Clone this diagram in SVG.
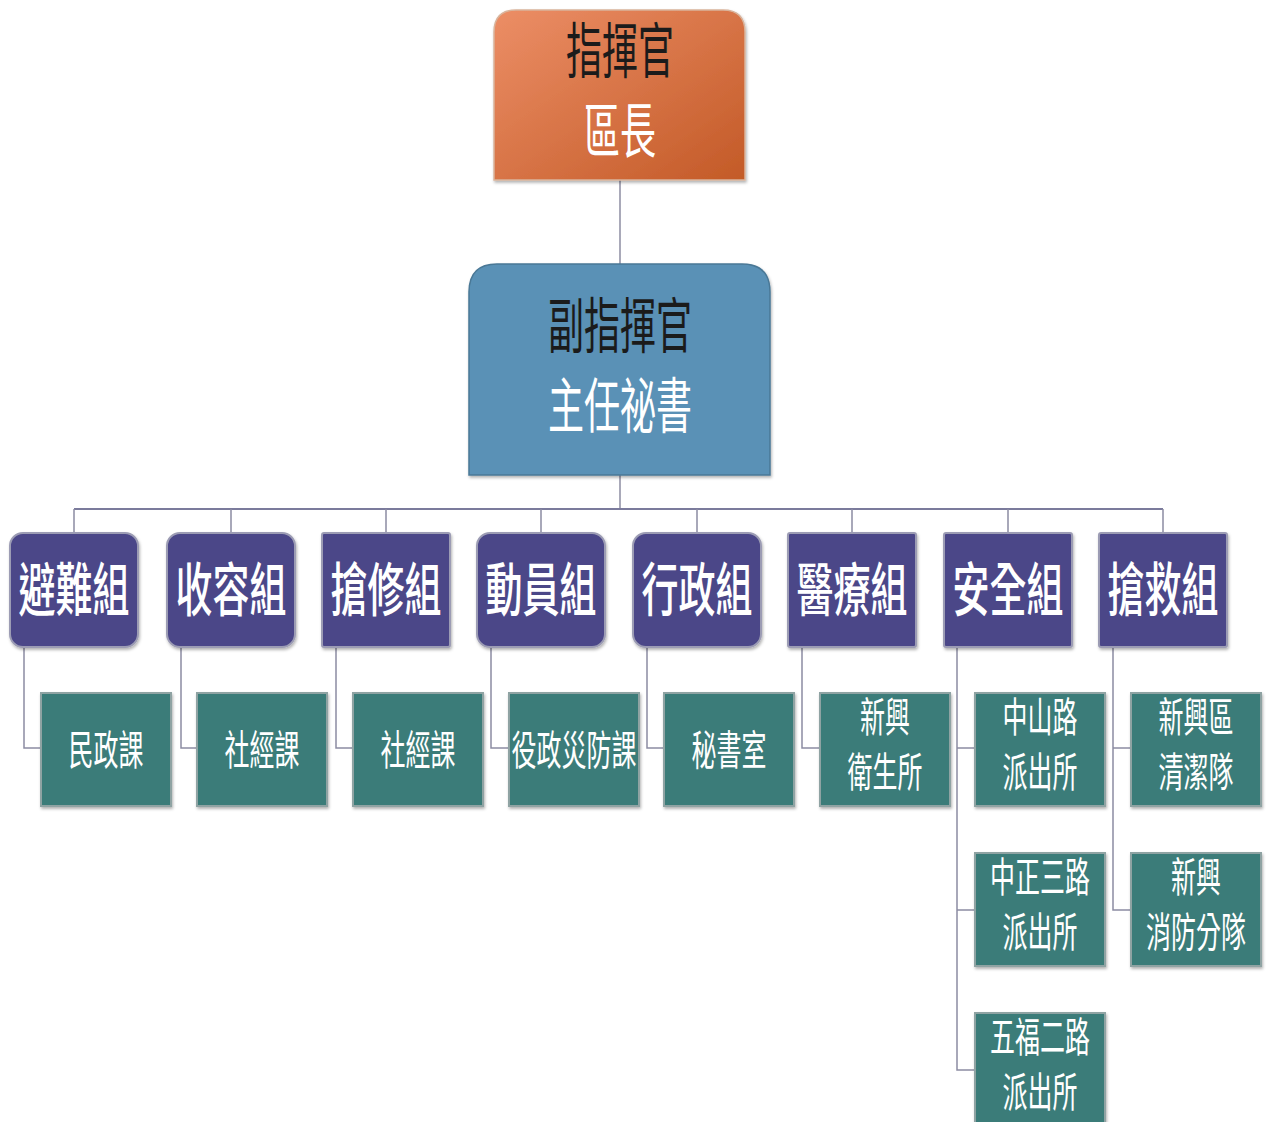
<svg xmlns="http://www.w3.org/2000/svg" width="1269" height="1122" viewBox="0 0 1269 1122">
<defs>
<linearGradient id="orange" x1="0" y1="0" x2="1" y2="1">
<stop offset="0" stop-color="#EC8E66"/>
<stop offset="1" stop-color="#C35A27"/>
</linearGradient>
<filter id="sh" x="-5%" y="-5%" width="112%" height="115%">
<feDropShadow dx="1" dy="2" stdDeviation="1.5" flood-color="#000" flood-opacity="0.3"/>
</filter>
</defs>
<style>
text{font-family:"Noto Sans CJK TC","Noto Sans CJK SC",sans-serif;text-anchor:middle;}
.dark{fill:#1b1b1b;font-size:36px;}
.white{fill:#ffffff;font-size:36px;}
.grp{fill:#4B4788;stroke:#9c9cb4;stroke-width:2;filter:url(#sh);}
.gt{fill:#ffffff;font-size:37px;font-weight:500;}
.sub{fill:#3A7B79;stroke:#8fa3a3;stroke-width:2;filter:url(#sh);}
.st{fill:#ffffff;font-size:25px;}
.ln{fill:none;stroke:#8c8ca2;stroke-width:1.5;}
.bar{fill:none;stroke:#7b7b9c;stroke-width:2;}
</style>
<rect width="1269" height="1122" fill="#ffffff"/>
<g id="connectors">
<path class="ln" d="M620 180V264"/>
<path class="ln" d="M620 475V509"/>
<path class="bar" d="M74 509H1163"/>
<path class="ln" d="M74 509V533M231 509V533M386 509V533M541 509V533M697 509V533M852 509V533M1008 509V533M1163 509V533"/>
<path class="ln" d="M24 647V748H41M181 647V748H197M336 647V748H353M491 647V748H509M647 647V748H664M802 647V748H820"/>
<path class="ln" d="M957 647V1070H975M957 748H975M957 910H975"/>
<path class="ln" d="M1113 647V910H1131M1113 748H1131"/>
</g>
<g id="commander">
<path d="M494 180V32Q494 10 516 10H723Q745 10 745 32V180Z" fill="url(#orange)" stroke="#d9b49c" stroke-width="1.5" filter="url(#sh)"/>
<text class="dark" transform="translate(620 73) scale(1 1.67)">指揮官</text>
<text class="white" transform="translate(620 153) scale(1 1.67)">區長</text>
</g>
<g id="deputy">
<path d="M469 475V292Q469 264 497 264H742Q770 264 770 292V475Z" fill="#5A91B6" stroke="#4a7896" stroke-width="1.5" filter="url(#sh)"/>
<text class="dark" transform="translate(620 348) scale(1 1.67)">副指揮官</text>
<text class="white" transform="translate(620 428) scale(1 1.67)">主任祕書</text>
</g>
<g id="g1"><rect class="grp" x="10" y="533" width="128" height="114" rx="13"/><text class="gt" transform="translate(74 611) scale(1 1.57)">避難組</text></g>
<g id="g2"><rect class="grp" x="167" y="533" width="128" height="114" rx="13"/><text class="gt" transform="translate(231 611) scale(1 1.57)">收容組</text></g>
<g id="g3"><rect class="grp" x="322" y="533" width="128" height="114" rx="2"/><text class="gt" transform="translate(386 611) scale(1 1.57)">搶修組</text></g>
<g id="g4"><rect class="grp" x="477" y="533" width="128" height="114" rx="13"/><text class="gt" transform="translate(541 611) scale(1 1.57)">動員組</text></g>
<g id="g5"><rect class="grp" x="633" y="533" width="128" height="114" rx="13"/><text class="gt" transform="translate(697 611) scale(1 1.57)">行政組</text></g>
<g id="g6"><rect class="grp" x="788" y="533" width="128" height="114" rx="2"/><text class="gt" transform="translate(852 611) scale(1 1.57)">醫療組</text></g>
<g id="g7"><rect class="grp" x="944" y="533" width="128" height="114" rx="2"/><text class="gt" transform="translate(1008 611) scale(1 1.57)">安全組</text></g>
<g id="g8"><rect class="grp" x="1099" y="533" width="128" height="114" rx="2"/><text class="gt" transform="translate(1163 611) scale(1 1.57)">搶救組</text></g>
<g id="s1"><rect class="sub" x="41" y="693" width="130" height="113"/><text class="st" transform="translate(106 765) scale(1 1.66)">民政課</text></g>
<g id="s2"><rect class="sub" x="197" y="693" width="130" height="113"/><text class="st" transform="translate(262 765) scale(1 1.66)">社經課</text></g>
<g id="s3"><rect class="sub" x="353" y="693" width="130" height="113"/><text class="st" transform="translate(418 765) scale(1 1.66)">社經課</text></g>
<g id="s4"><rect class="sub" x="509" y="693" width="130" height="113"/><text class="st" transform="translate(574 765) scale(1 1.66)">役政災防課</text></g>
<g id="s5"><rect class="sub" x="664" y="693" width="130" height="113"/><text class="st" transform="translate(729 765) scale(1 1.66)">秘書室</text></g>
<g id="s6"><rect class="sub" x="820" y="693" width="130" height="113"/><text class="st" transform="translate(885 732) scale(1 1.66)">新興</text><text class="st" transform="translate(885 787) scale(1 1.66)">衛生所</text></g>
<g id="s7"><rect class="sub" x="975" y="693" width="130" height="113"/><text class="st" transform="translate(1040 732) scale(1 1.66)">中山路</text><text class="st" transform="translate(1040 787) scale(1 1.66)">派出所</text></g>
<g id="s8"><rect class="sub" x="975" y="853" width="130" height="113"/><text class="st" transform="translate(1040 892) scale(1 1.66)">中正三路</text><text class="st" transform="translate(1040 947) scale(1 1.66)">派出所</text></g>
<g id="s9"><rect class="sub" x="975" y="1013" width="130" height="120"/><text class="st" transform="translate(1040 1052) scale(1 1.66)">五福二路</text><text class="st" transform="translate(1040 1107) scale(1 1.66)">派出所</text></g>
<g id="s10"><rect class="sub" x="1131" y="693" width="130" height="113"/><text class="st" transform="translate(1196 732) scale(1 1.66)">新興區</text><text class="st" transform="translate(1196 787) scale(1 1.66)">清潔隊</text></g>
<g id="s11"><rect class="sub" x="1131" y="853" width="130" height="113"/><text class="st" transform="translate(1196 892) scale(1 1.66)">新興</text><text class="st" transform="translate(1196 947) scale(1 1.66)">消防分隊</text></g>
</svg>
